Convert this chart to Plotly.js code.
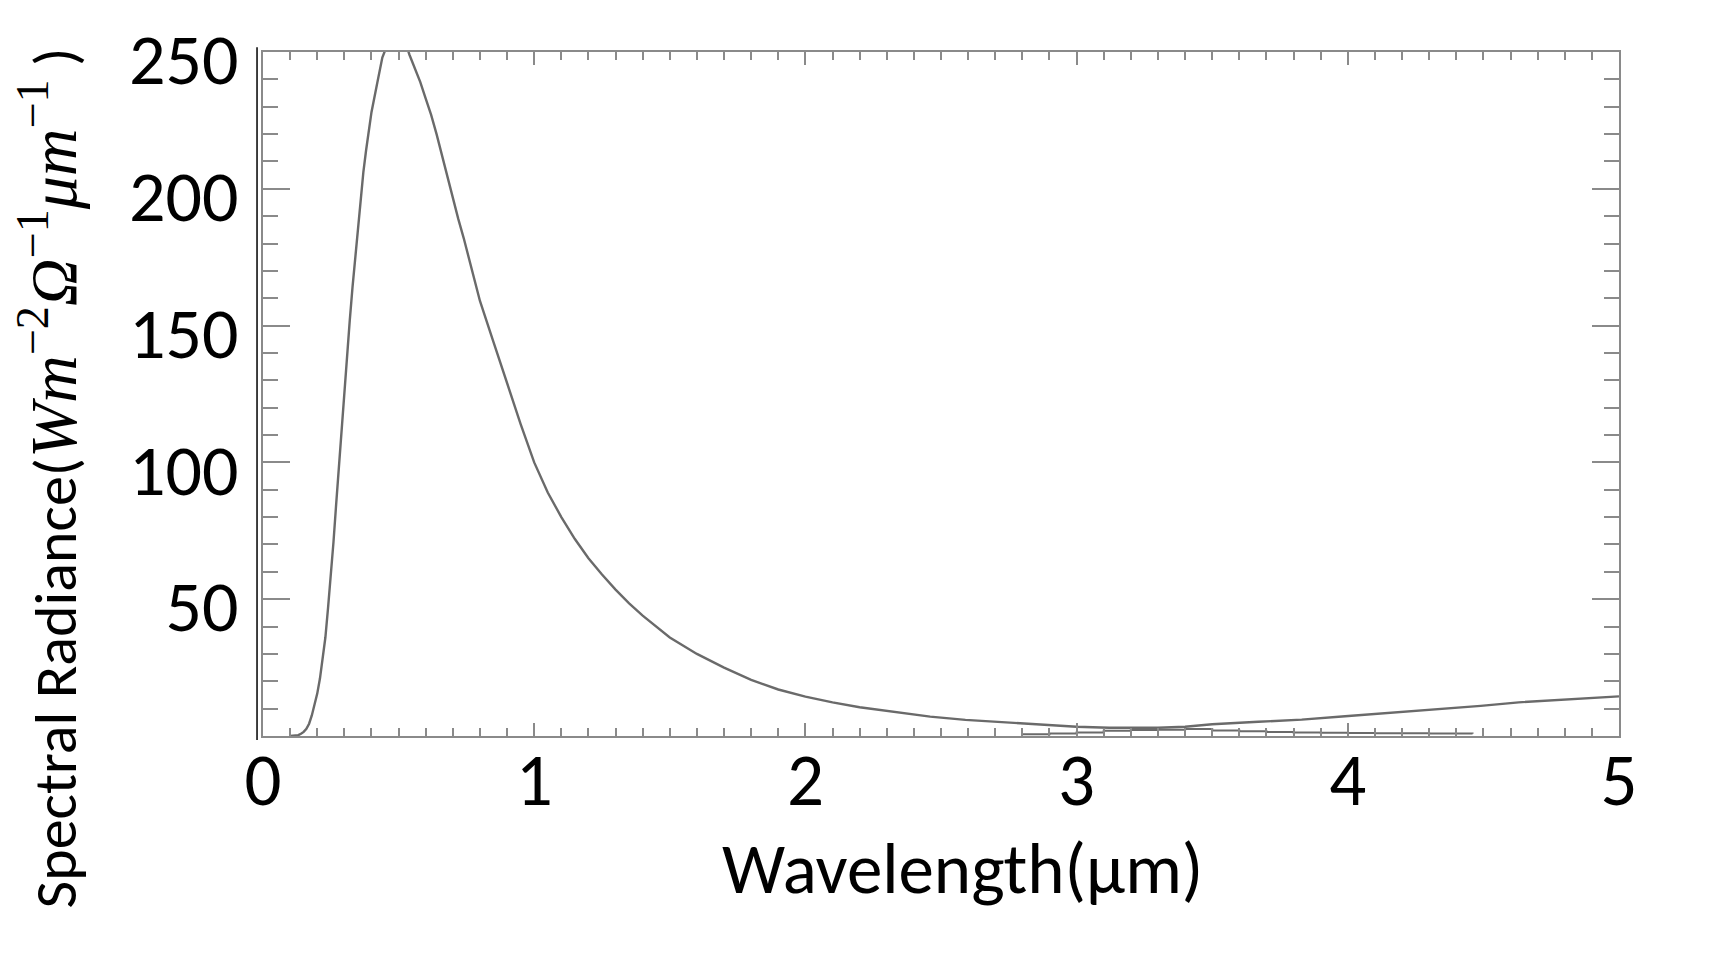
<!DOCTYPE html>
<html>
<head>
<meta charset="utf-8">
<script src="https://cdn.plot.ly/plotly-3.0.1.min.js"></script>
<style>
  html, body { margin: 0; padding: 0; background: #ffffff; }
  #chart { width: 1723px; height: 970px; }
</style>
</head>
<body>
<div id="chart"></div>
<script>
// Main spectral radiance curve (wavelength in µm, radiance)
const wavelength = [
  0.10, 0.13, 0.14, 0.15, 0.16, 0.17, 0.18, 0.19, 0.20, 0.21,
  0.22, 0.23, 0.24, 0.25, 0.26, 0.27, 0.28, 0.29, 0.30, 0.31,
  0.32, 0.33, 0.34, 0.35, 0.36, 0.37, 0.38, 0.39, 0.40, 0.42,
  0.44, 0.46, 0.48, 0.50, 0.52, 0.54, 0.56, 0.58, 0.60, 0.62,
  0.64, 0.66, 0.68, 0.70, 0.72, 0.74, 0.76, 0.78, 0.80, 0.85,
  0.90, 0.95, 1.00, 1.05, 1.10, 1.15, 1.20, 1.25, 1.30, 1.35,
  1.40, 1.50, 1.60, 1.70, 1.80, 1.90, 2.00, 2.10, 2.20, 2.35,
  2.46, 2.59, 2.76, 2.92, 3.00, 3.12, 3.20, 3.30, 3.40, 3.50,
  3.67, 3.83, 3.99, 4.06, 4.20, 4.35, 4.49, 4.63, 4.78, 4.93,
  5.00
];
const radiance = [
  0.0, 0.3, 0.8, 1.5, 2.6, 4.5, 7.5, 11, 15.5, 21,
  28, 36, 47, 58, 71, 85, 99, 113, 127, 140,
  152, 164, 175, 186, 196, 206, 214, 221, 228, 238,
  248, 253, 256, 257, 255, 249, 244, 239, 233, 227,
  220, 212, 204, 197, 189, 182, 174, 166.5, 159, 144,
  129, 114, 100, 89, 80, 72, 65, 59, 53.5, 48.5,
  44, 36, 30, 25, 20.5, 17, 14.4, 12.3, 10.5, 8.5,
  7.1, 5.9, 4.9, 4.0, 3.4, 3.0, 2.9, 3.0, 3.4, 4.3,
  5.2, 6.0, 7.2, 7.7, 8.8, 9.9, 11.0, 12.3, 13.2, 14.1,
  14.5
];

// Secondary low curve near the axis
const wavelength2 = [2.80, 2.90, 3.00, 3.10, 3.20, 3.30, 3.40, 3.50, 3.60, 3.70, 3.80, 3.90, 4.00, 4.10, 4.20, 4.30, 4.46];
const radiance2   = [0.6, 0.9, 1.3, 1.9, 2.2, 2.3, 2.6, 2.0, 1.7, 1.5, 1.3, 1.2, 1.1, 1.0, 1.0, 0.9, 0.8];

const xTickVals = [0, 1, 2, 3, 4, 5];
const yTickVals = [50, 100, 150, 200, 250];

const xTitle = 'Wavelength(μm)';
const yTitle = 'Spectral Radiance(<span style="font-family:\'Liberation Serif\', serif;font-size:66px"><i>Wm</i><sup>−2</sup><i>Ω</i><sup>−1</sup><i>μm</i><sup>−1</sup></span> )';

const sansFont = 'Carlito, Calibri, Lato, sans-serif';
const frameColor = '#8a8a8a';

const traces = [
  {
    x: wavelength, y: radiance,
    type: 'scatter', mode: 'lines',
    line: { color: '#6a6a6a', width: 2.4, shape: 'linear' },
    hoverinfo: 'x+y', showlegend: false
  },
  {
    x: wavelength2, y: radiance2,
    type: 'scatter', mode: 'lines',
    line: { color: '#6a6a6a', width: 2, shape: 'hv' },
    hoverinfo: 'x+y', showlegend: false
  }
];

const layout = {
  width: 1723, height: 970,
  margin: { l: 263, r: 104, t: 52, b: 234, pad: 0 },
  paper_bgcolor: '#ffffff', plot_bgcolor: '#ffffff',
  showlegend: false,
  font: { family: sansFont, color: '#000000' },
  xaxis: {
    range: [0, 5],
    tickmode: 'array', tickvals: xTickVals,
    ticks: 'inside', ticklen: 13, tickwidth: 2, tickcolor: frameColor,
    minor: { tickmode: 'linear', tick0: 0, dtick: 0.1, ticks: 'inside', ticklen: 8, tickwidth: 2, tickcolor: frameColor },
    showline: true, linecolor: frameColor, linewidth: 2, mirror: 'ticks',
    showgrid: false, zeroline: false,
    tickfont: { family: sansFont, size: 73, color: '#000000' },
    ticklabelstandoff: -21
  },
  yaxis: {
    range: [0, 250],
    tickmode: 'array', tickvals: yTickVals,
    ticks: 'inside', ticklen: 27, tickwidth: 2, tickcolor: frameColor,
    minor: { tickmode: 'linear', tick0: 0, dtick: 10, ticks: 'inside', ticklen: 15, tickwidth: 2, tickcolor: frameColor },
    showline: true, linecolor: frameColor, linewidth: 2, mirror: 'ticks',
    showgrid: false, zeroline: false,
    tickfont: { family: sansFont, size: 72, color: '#000000' },
    ticklabelstandoff: 8,
    ticklabelshift: 7
  },
  annotations: [
    {
      text: xTitle,
      xref: 'paper', yref: 'paper',
      x: 0.516, y: -0.193,
      xanchor: 'center', yanchor: 'middle',
      showarrow: false, borderpad: 0,
      font: { family: sansFont, size: 71, color: '#000000' }
    },
    {
      text: yTitle,
      xref: 'paper', yref: 'paper',
      x: -0.1576, y: 0.377,
      xanchor: 'center', yanchor: 'middle',
      textangle: -90, showarrow: false,
      font: { family: sansFont, size: 60, color: '#000000' }
    }
  ],
  shapes: [
    {
      type: 'line', xref: 'paper', yref: 'paper',
      x0: -0.0044, x1: -0.0044, y0: -0.006, y1: 1.007,
      line: { color: '#000000', width: 1.5 }
    }
  ]
};

Plotly.newPlot('chart', traces, layout, { staticPlot: true, displayModeBar: false });
</script>
</body>
</html>
